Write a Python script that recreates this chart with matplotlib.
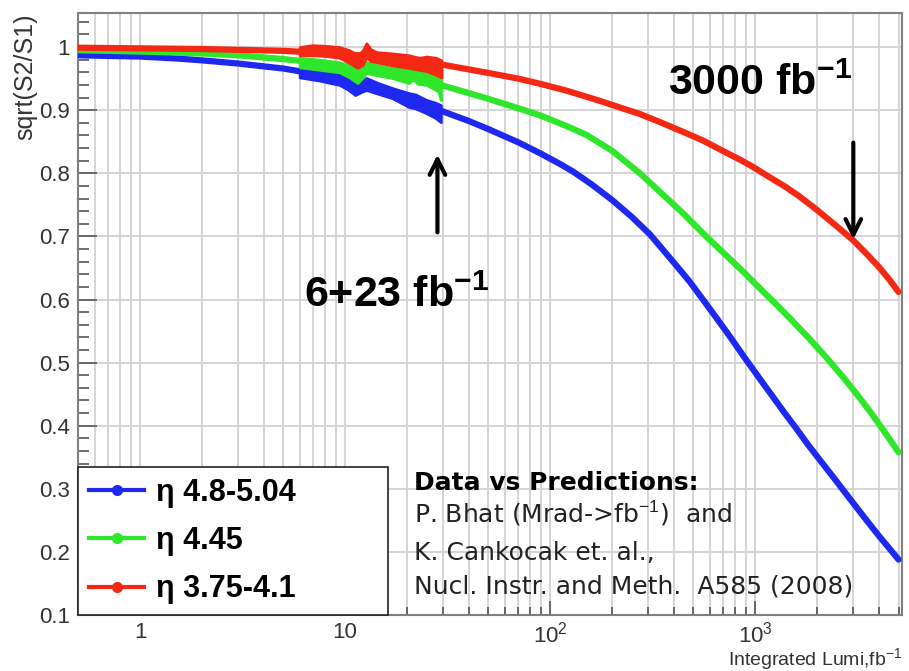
import numpy as np
import matplotlib.pyplot as plt
from matplotlib.lines import Line2D
from matplotlib.ticker import FixedLocator, FixedFormatter, LogLocator, NullFormatter, MultipleLocator

plt.rcParams['font.family'] = ['Liberation Sans', 'DejaVu Sans']
plt.rcParams['mathtext.fontset'] = 'custom'
plt.rcParams['mathtext.rm'] = 'Liberation Sans'
plt.rcParams['mathtext.bf'] = 'Liberation Sans:bold'
plt.rcParams['mathtext.it'] = 'Liberation Sans:italic'

# ---- predictions ----
blue_x = [0.5, 0.7, 1, 1.5, 2, 3, 5, 7, 10, 15, 20, 30, 40, 50, 70, 89, 110, 129, 160, 200, 250, 307, 400,
          480, 556, 650, 750, 910, 1050, 1200, 1400, 1567, 1800, 2075, 2450, 2900, 3400, 4000, 4500, 5000]
blue_y = [0.987, 0.986, 0.985, 0.982, 0.979, 0.974, 0.966, 0.958, 0.947, 0.931, 0.918, 0.898, 0.883, 0.870,
          0.849, 0.832, 0.816, 0.803, 0.782, 0.758, 0.731, 0.703, 0.659, 0.628, 0.600, 0.570, 0.542, 0.503,
          0.475, 0.449, 0.419, 0.398, 0.371, 0.345, 0.315, 0.284, 0.255, 0.226, 0.206, 0.188]

green_x = [0.5, 1, 2, 3, 5, 7, 10, 15, 20, 30, 50, 70, 89, 120, 150, 200, 274, 350, 450, 556, 700, 850,
           1000, 1250, 1500, 1800, 2240, 2700, 3200, 3700, 4300, 5000]
green_y = [0.995, 0.993, 0.990, 0.987, 0.981, 0.976, 0.970, 0.960, 0.952, 0.939, 0.918, 0.903, 0.892, 0.875,
           0.861, 0.836, 0.800, 0.768, 0.735, 0.705, 0.674, 0.648, 0.625, 0.594, 0.568, 0.541, 0.507, 0.476,
           0.446, 0.419, 0.389, 0.358]

red_x = [0.5, 1, 2, 5, 10, 20, 30, 50, 70, 89, 120, 174, 230, 274, 350, 450, 556, 700, 850, 977, 1200, 1400,
         1650, 2000, 2500, 3000, 3500, 4000, 4500, 5000]
red_y = [0.999, 0.998, 0.997, 0.994, 0.989, 0.980, 0.972, 0.959, 0.950, 0.942, 0.931, 0.915, 0.902, 0.894,
         0.880, 0.865, 0.852, 0.835, 0.821, 0.810, 0.792, 0.779, 0.763, 0.742, 0.716, 0.694, 0.672, 0.652,
         0.632, 0.612]

# ---- measured data bands (6 - 29 fb-1) ----
red_dx = [6.0, 6.9, 8.0, 9.4, 10.5, 11.5, 12.2, 12.7, 13.3, 14.2, 17, 20.5, 23, 25, 27.8, 29.5]
red_hi = [1.0, 1.003, 1.002, 1.0, 0.995, 0.987, 0.995, 1.006, 0.997, 0.992, 0.990, 0.987, 0.983, 0.985, 0.983, 0.979]
red_lo = [0.987, 0.987, 0.986, 0.983, 0.975, 0.967, 0.972, 0.984, 0.978, 0.976, 0.971, 0.967, 0.964, 0.962, 0.956, 0.952]

green_dx = [6.0, 7.5, 9.4, 10.5, 11.5, 12.2, 12.7, 14.5, 17, 20.5, 21.5, 22.5, 25, 28.5, 29.3]
green_hi = [0.983, 0.980, 0.976, 0.968, 0.960, 0.970, 0.976, 0.971, 0.967, 0.964, 0.971, 0.962, 0.959, 0.954, 0.952]
green_lo = [0.968, 0.964, 0.960, 0.952, 0.943, 0.952, 0.959, 0.955, 0.951, 0.943, 0.950, 0.942, 0.940, 0.930, 0.916]

blue_dx = [6.0, 7.5, 9.4, 10.3, 11.2, 12.0, 12.7, 14.5, 17, 20.5, 22, 25, 27.5, 29.3]
blue_hi = [0.968, 0.964, 0.959, 0.952, 0.943, 0.948, 0.951, 0.943, 0.935, 0.927, 0.925, 0.916, 0.912, 0.908]
blue_lo = [0.952, 0.947, 0.940, 0.933, 0.924, 0.929, 0.932, 0.926, 0.919, 0.905, 0.903, 0.895, 0.888, 0.881]

labels = ['\u03b7 4.8-5.04', '\u03b7 4.45', '\u03b7 3.75-4.1']
colors = ['#1e28f0', '#2ee62a', '#f52814']

xticks = [1, 10, 100, 1000]
xticklabels = ['1', '10', '$10^2$', '$10^3$']
yticks = [0.1, 0.2, 0.3, 0.4, 0.5, 0.6, 0.7, 0.8, 0.9, 1.0]
yticklabels = ['0.1', '0.2', '0.3', '0.4', '0.5', '0.6', '0.7', '0.8', '0.9', '1']

fig = plt.figure(figsize=(9.09, 6.71), dpi=100)
ax = fig.add_axes([0.0862, 0.0834, 0.9923 - 0.0862, 0.9806 - 0.0834])

ax.set_xscale('log')
ax.set_xlim(0.5, 5200)
ax.set_ylim(0.1, 1.054)

preds = [(blue_x, blue_y), (green_x, green_y), (red_x, red_y)]
bands = [(blue_dx, blue_lo, blue_hi), (green_dx, green_lo, green_hi), (red_dx, red_lo, red_hi)]
for (px, py), c in zip(preds, colors):
    ax.plot(px, py, color=c, lw=4.5, solid_capstyle='round', solid_joinstyle='round', zorder=3)
for (dx, lo, hi), c in zip(bands, colors):
    ax.fill_between(dx, lo, hi, color=c, lw=2, edgecolor=c, zorder=4)

# grid / ticks
ax.xaxis.set_major_locator(FixedLocator(xticks))
ax.xaxis.set_major_formatter(FixedFormatter(xticklabels))
ax.xaxis.set_minor_locator(LogLocator(base=10, subs=np.arange(2, 10)))
ax.xaxis.set_minor_formatter(NullFormatter())
ax.yaxis.set_major_locator(FixedLocator(yticks))
ax.yaxis.set_major_formatter(FixedFormatter(yticklabels))
ax.yaxis.set_minor_locator(MultipleLocator(0.02))
ax.grid(True, which='major', axis='both', color='#d4d4d4', lw=1.4, zorder=0)
ax.grid(True, which='minor', axis='x', color='#d4d4d4', lw=1.4, zorder=0)
ax.tick_params(which='both', direction='in', top=False, right=False, colors='#555555',
               labelcolor='#333333', labelsize=16)
ax.tick_params(axis='y', which='major', length=14, width=1.2, pad=6)
ax.tick_params(axis='y', which='minor', length=8, width=1.2)
ax.tick_params(axis='x', which='major', length=10, width=1.2, pad=5)
ax.tick_params(axis='x', which='minor', length=6, width=1.2)
for s in ax.spines.values():
    s.set_color('#808080')
    s.set_linewidth(1.5)

ax.set_ylabel('sqrt(S2/S1)', fontsize=18, color='#333333', loc='top')
ax.yaxis.set_label_coords(-0.05, 1.0)
ax.set_xlabel('Integrated Lumi,fb$^{-1}$', fontsize=14, color='#333333', loc='right')
ax.xaxis.set_label_coords(1.0, -0.052)

# legend
handles = [Line2D([], [], color=c, lw=3, marker='o', markersize=7) for c in colors]
leg = ax.legend(handles, labels, loc='lower left', bbox_to_anchor=(0, 0, 0.376, 0.25), mode='expand',
                borderaxespad=0, frameon=True, fancybox=False, framealpha=1, edgecolor='#222222',
                prop={'weight': 'bold', 'size': 22}, handlelength=1.8, handletextpad=0.4,
                labelspacing=0.6, borderpad=0.35)
leg.get_frame().set_linewidth(1.2)
leg.set_zorder(6)

# annotations
tx = 0.407
ax.text(tx, 0.208, 'Data vs Predictions:', transform=ax.transAxes, fontsize=18, fontweight='bold',
        family=['DejaVu Sans'], va='baseline', zorder=7)
ax.text(tx, 0.153, 'P. Bhat (Mrad->fb$^{-1}$)  and', transform=ax.transAxes, fontsize=18,
        family=['DejaVu Sans'], va='baseline', color='#222222', zorder=7)
ax.text(tx, 0.091, 'K. Cankocak et. al.,', transform=ax.transAxes, fontsize=18,
        family=['DejaVu Sans'], va='baseline', color='#222222', zorder=7)
ax.text(tx, 0.035, 'Nucl. Instr. and Meth.  A585 (2008)', transform=ax.transAxes, fontsize=18,
        family=['DejaVu Sans'], va='baseline', color='#222222', zorder=7)

run1_x, run1_tip, run1_tail = 28.2, 0.834, 0.702
hl_x, hl_tip, hl_tail = 3010, 0.691, 0.853
ax.annotate('', xy=(run1_x, run1_tip), xytext=(run1_x, run1_tail),
            arrowprops=dict(arrowstyle='->', lw=3, color='black', mutation_scale=28), zorder=7)
ax.annotate('', xy=(hl_x, hl_tip), xytext=(hl_x, hl_tail),
            arrowprops=dict(arrowstyle='->', lw=3, color='black', mutation_scale=28), zorder=7)
ax.text(6.33, 0.588, r'6+23 fb$^{\mathbf{-1}}$', fontsize=31, fontweight='bold', va='baseline', zorder=7)
ax.text(375, 0.924, r'3000 fb$^{\mathbf{-1}}$', fontsize=31, fontweight='bold', va='baseline', zorder=7)

fig.savefig('out.png', dpi=100)
